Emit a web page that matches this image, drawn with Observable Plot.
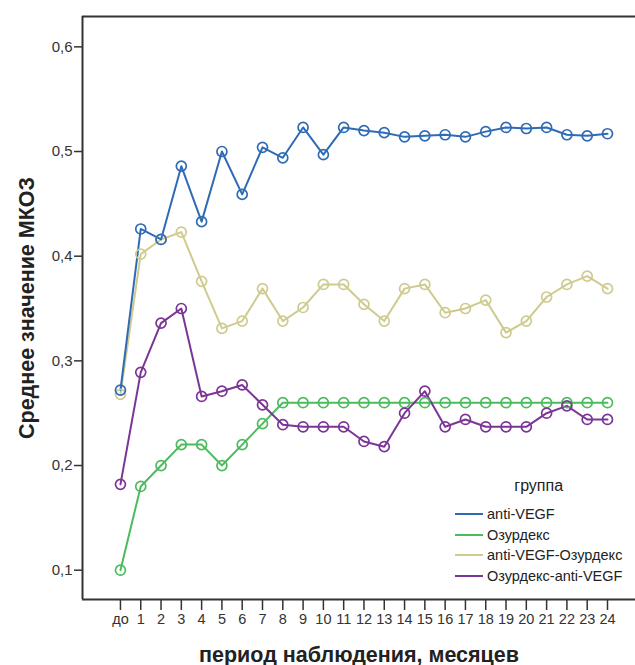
<!DOCTYPE html>
<html>
<head>
<meta charset="utf-8">
<script src="https://cdn.jsdelivr.net/npm/d3@7"></script>
<script src="https://cdn.jsdelivr.net/npm/@observablehq/plot@0.6"></script>
<style>
  html, body { margin: 0; padding: 0; background: #fff; }
  #wrap { position: relative; width: 635px; height: 665px; font-family: "Liberation Sans", Arial, sans-serif; }
  #wrap svg { position: absolute; left: 0; top: 0; }
  g[aria-label="y-axis label"] text, g[aria-label="x-axis label"] text { font-size: 21.5px; font-weight: bold; fill: #222; }
  g[aria-label="y-axis tick label"] text { fill: #333; font-size: 15px; }
  g[aria-label="x-axis tick label"] text { fill: #333; font-size: 14.5px; }
  #legend { position: absolute; left: 455px; top: 476px; font-size: 14.5px; color: #222; }
  #legend .title { font-size: 16px; text-align: center; margin-left: 0px; margin-bottom: 8px; line-height: 20px; }
  #legend .item { display: flex; align-items: center; height: 20.5px; }
  #legend .sw { width: 28px; height: 2px; margin-right: 4px; }
</style>
</head>
<body>
<div id="wrap"></div>
<script>
// ---- data ----
const periodLabels = ["до","1","2","3","4","5","6","7","8","9","10","11","12","13","14","15","16","17","18","19","20","21","22","23","24"];
const groupNames = ["anti-VEGF", "Озурдекс", "anti-VEGF-Озурдекс", "Озурдекс-anti-VEGF"];
const groupColors = ["#2f6bb5", "#4cbb5e", "#cfcb8f", "#7b3595"];
const antiVEGF = [0.272, 0.426, 0.416, 0.486, 0.433, 0.500, 0.459, 0.504, 0.494, 0.523, 0.497, 0.523, 0.520, 0.518, 0.514, 0.515, 0.516, 0.514, 0.519, 0.523, 0.522, 0.523, 0.516, 0.515, 0.517];
const ozurdex = [0.100, 0.180, 0.200, 0.220, 0.220, 0.200, 0.220, 0.240, 0.260, 0.260, 0.260, 0.260, 0.260, 0.260, 0.260, 0.260, 0.260, 0.260, 0.260, 0.260, 0.260, 0.260, 0.260, 0.260, 0.260];
const antiVEGFOzurdex = [0.268, 0.402, 0.416, 0.423, 0.376, 0.331, 0.338, 0.369, 0.338, 0.351, 0.373, 0.373, 0.354, 0.338, 0.369, 0.373, 0.346, 0.350, 0.358, 0.327, 0.338, 0.361, 0.373, 0.381, 0.369];
const ozurdexAntiVEGF = [0.182, 0.289, 0.336, 0.350, 0.266, 0.271, 0.277, 0.258, 0.239, 0.237, 0.237, 0.237, 0.223, 0.218, 0.250, 0.271, 0.237, 0.244, 0.237, 0.237, 0.237, 0.250, 0.257, 0.244, 0.244];
const yTicks = [0.1, 0.2, 0.3, 0.4, 0.5, 0.6];
const yDomain = [0.072, 0.629];
const xDomain = [-1.87, 25.38];

// draw order: green, beige, purple, blue
const drawOrder = [
  [groupNames[1], ozurdex],
  [groupNames[2], antiVEGFOzurdex],
  [groupNames[3], ozurdexAntiVEGF],
  [groupNames[0], antiVEGF]
];
const data = drawOrder.flatMap(([name, vals]) => vals.map((v, i) => ({x: i, y: v, group: name})));

const chart = Plot.plot({
  width: 635,
  height: 665,
  marginLeft: 82,
  marginRight: 0,
  marginTop: 16,
  marginBottom: 66,
  style: {fontFamily: "'Liberation Sans', Arial, sans-serif", fontSize: "14px", background: "white", overflow: "visible"},
  x: {domain: xDomain},
  y: {domain: yDomain},
  color: {domain: groupNames, range: groupColors},
  marks: [
    Plot.ruleY([yDomain[1]], {stroke: "#333", strokeWidth: 2}),
    Plot.axisY({ticks: yTicks, tickFormat: d => d.toFixed(1).replace(".", ","), tickSize: 8, tickPadding: 2, stroke: "#333", strokeWidth: 1.5,
      label: "Среднее значение МКОЗ", labelAnchor: "center", labelArrow: "none", labelOffset: 64}),
    Plot.axisX({ticks: d3.range(periodLabels.length), tickFormat: i => periodLabels[i], tickSize: 11, tickPadding: 3, stroke: "#333", strokeWidth: 1.5,
      label: "период наблюдения, месяцев", labelAnchor: "center", labelArrow: "none", labelOffset: 62}),
    Plot.ruleX([xDomain[0]], {stroke: "#333", strokeWidth: 2}),
    Plot.ruleY([yDomain[0]], {stroke: "#333", strokeWidth: 2}),
    Plot.line(data, {x: "x", y: "y", z: "group", stroke: "group", strokeWidth: 2}),
    Plot.dot(data, {x: "x", y: "y", stroke: "group", r: 5, strokeWidth: 1.7, fill: "none"})
  ]
});

const wrap = document.getElementById("wrap");
wrap.appendChild(chart);

// legend
const legend = document.createElement("div");
legend.id = "legend";
const title = document.createElement("div");
title.className = "title";
title.textContent = "группа";
legend.appendChild(title);
groupNames.forEach((name, i) => {
  const item = document.createElement("div");
  item.className = "item";
  const sw = document.createElement("span");
  sw.className = "sw";
  sw.style.background = groupColors[i];
  const label = document.createElement("span");
  label.textContent = name;
  item.appendChild(sw);
  item.appendChild(label);
  legend.appendChild(item);
});
wrap.appendChild(legend);
</script>
</body>
</html>
